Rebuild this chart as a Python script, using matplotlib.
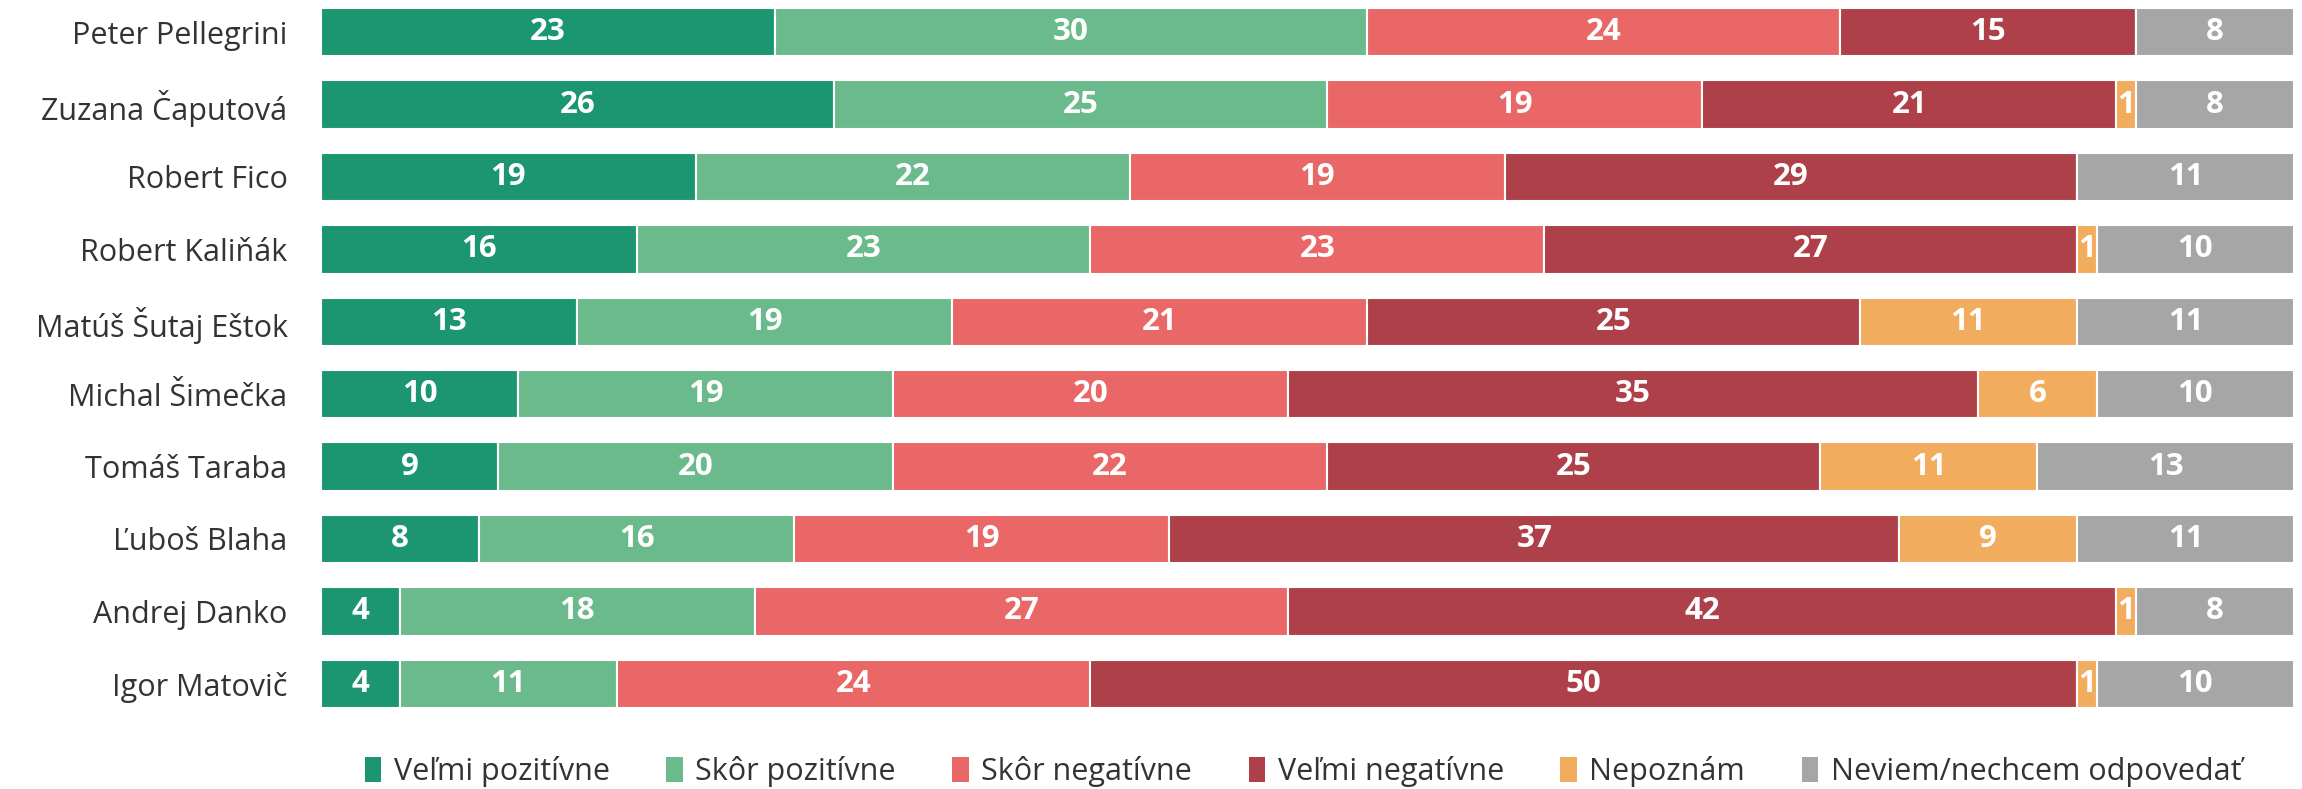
import numpy as np
import matplotlib
matplotlib.use("Agg")
import matplotlib.pyplot as plt
from matplotlib.patches import Patch

plt.rcParams['font.family'] = ['Open Sans', 'DejaVu Sans']

names = ["Peter Pellegrini", "Zuzana Čaputová", "Robert Fico", "Robert Kaliňák",
         "Matúš Šutaj Eštok", "Michal Šimečka", "Tomáš Taraba", "Ľuboš Blaha",
         "Andrej Danko", "Igor Matovič"]

categories = ["Veľmi pozitívne", "Skôr pozitívne", "Skôr negatívne",
              "Veľmi negatívne", "Nepoznám", "Neviem/nechcem odpovedať"]

velmi_poz = [23, 26, 19, 16, 13, 10, 9, 8, 4, 4]
skor_poz = [30, 25, 22, 23, 19, 19, 20, 16, 18, 11]
skor_neg = [24, 19, 19, 23, 21, 20, 22, 19, 27, 24]
velmi_neg = [15, 21, 29, 27, 25, 35, 25, 37, 42, 50]
nepoznam = [0, 1, 0, 1, 11, 6, 11, 9, 1, 1]
neviem = [8, 8, 11, 10, 11, 10, 13, 11, 8, 10]

series = [velmi_poz, skor_poz, skor_neg, velmi_neg, nepoznam, neviem]
colors = ["#1b9670", "#6bba8b", "#e96767", "#ae4049", "#f2ac5e", "#a6a6a6"]

fig = plt.figure(figsize=(23.02, 7.89), dpi=100)
ax = fig.add_axes([0.1394, 0.0875, 0.8571, 0.9176])

y = np.arange(len(names))
left = np.zeros(len(names))
for vals, col in zip(series, colors):
    vals = np.array(vals, dtype=float)
    bars = ax.barh(y, vals, left=left, height=0.67, color=col,
                   edgecolor="white", linewidth=1.5)
    for b, v in zip(bars, vals):
        if v > 0:
            ax.text(b.get_x() + b.get_width() / 2, b.get_y() + b.get_height() / 2,
                    f"{int(v)}", ha="center", va="center", color="white",
                    fontsize=22.5, fontweight="bold")
    left += vals

ax.set_xlim(0, 100)
ax.set_ylim(len(names) - 0.5, -0.5)
ax.set_yticks(y)
ax.set_yticklabels(names, fontsize=22, color="#333333")
ax.tick_params(axis="y", length=0, pad=24)
ax.set_xticks([])
for s in ax.spines.values():
    s.set_visible(False)

handles = [Patch(facecolor=c, edgecolor="none") for c in colors]
fig.legend(handles, categories, loc="center", bbox_to_anchor=(0.566, 0.022),
           ncol=6, frameon=False, fontsize=22, handlelength=0.55, handleheight=0.85,
           handletextpad=0.4, columnspacing=1.85, labelcolor="#333333")

fig.savefig("out.png", dpi=100)
